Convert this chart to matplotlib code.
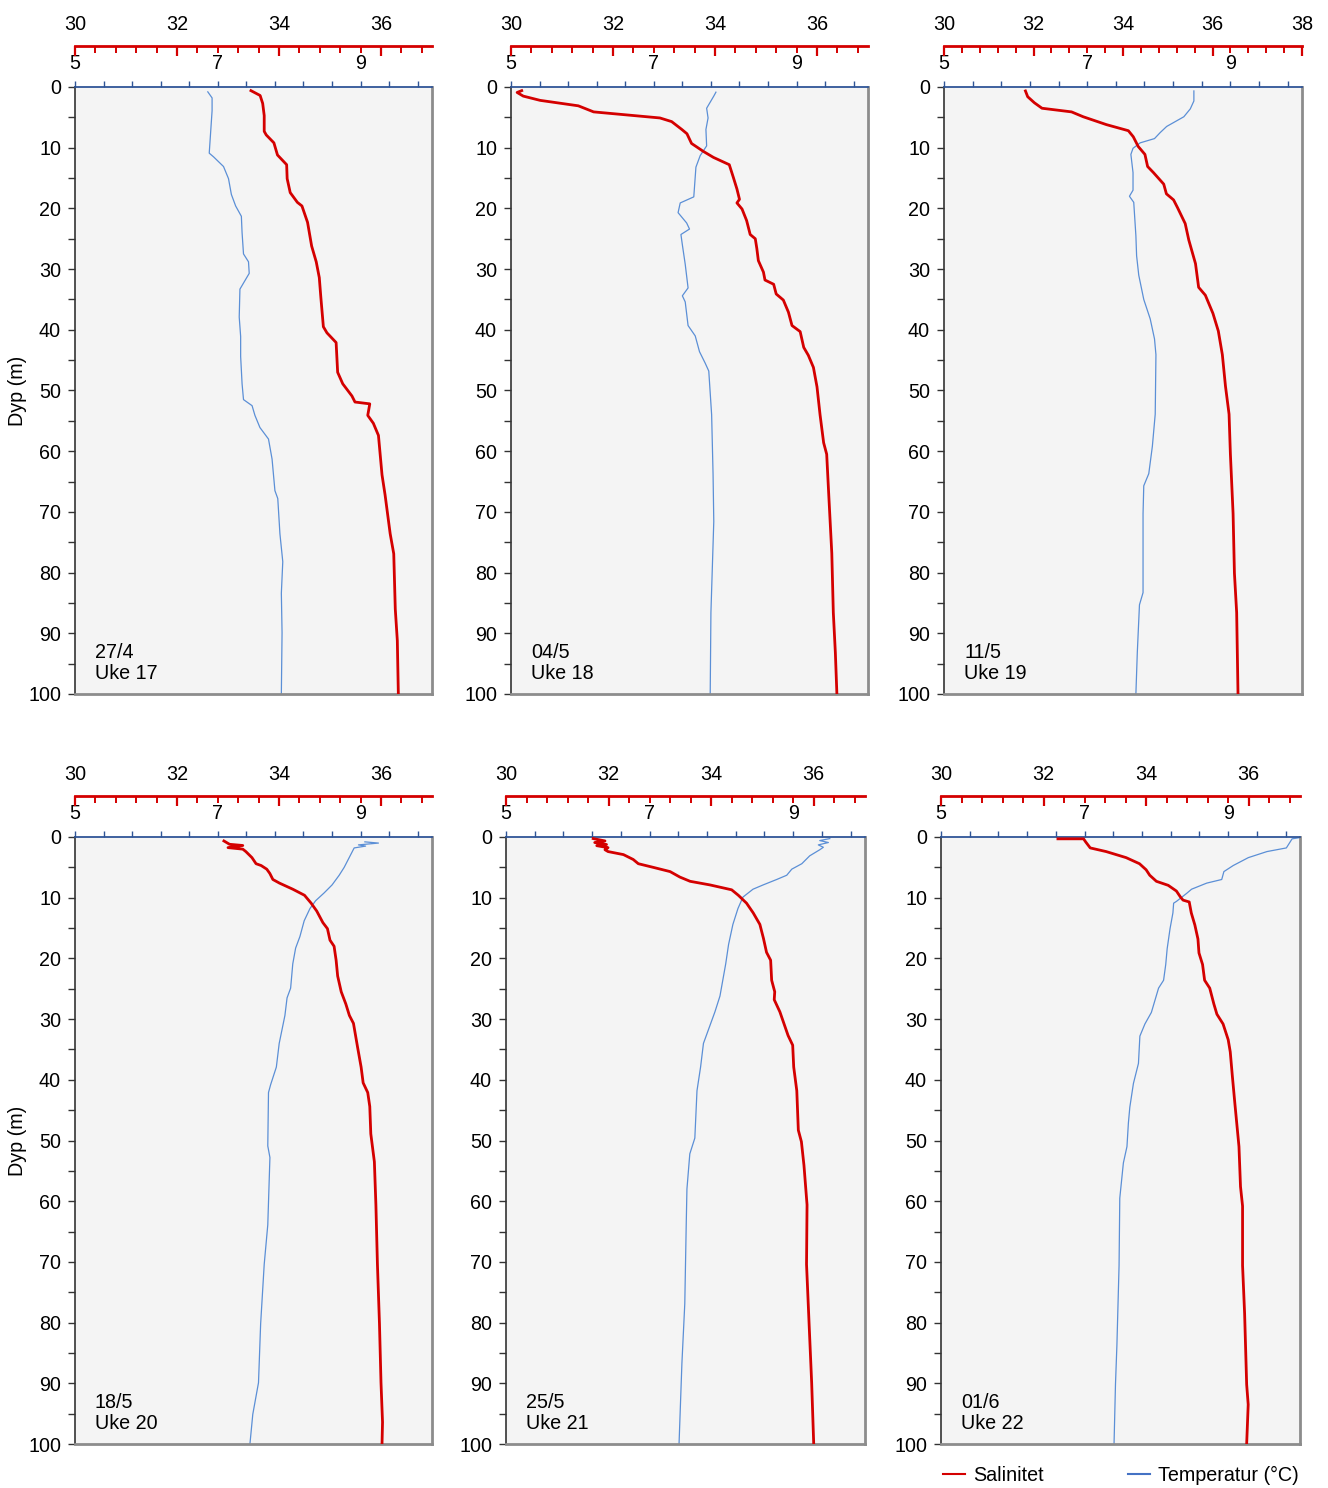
import matplotlib.pyplot as plt
import numpy as np
from matplotlib.lines import Line2D

plt.rcParams['font.family'] = ['Liberation Sans', 'DejaVu Sans']

# ── Profile data (depth in m) ──
dates = ["27/4", "04/5", "11/5", "18/5", "25/5", "01/6"]
weeks = [17, 18, 19, 20, 21, 22]
sal_max = [37, 37, 38, 37, 37, 37]

# 27/4 - Uke 17
sal_d1 = [0.6, 1.4, 2.7, 4.7, 7.3, 7.9, 9.2, 11.2, 12.8, 15.1, 17.4, 19.0, 19.6, 22.3, 26.2, 28.8, 31.4, 34.6,
          39.5, 40.5, 42.1, 47.0, 48.9, 50.9, 51.9, 52.2, 54.1, 55.4, 57.4, 63.9, 67.2, 73.6, 76.9, 86.0, 91.2, 100]
sal_v1 = [33.45, 33.63, 33.68, 33.71, 33.71, 33.75, 33.90, 33.97, 34.15, 34.16, 34.22, 34.36, 34.45, 34.56, 34.64,
          34.73, 34.79, 34.82, 34.87, 34.94, 35.12, 35.15, 35.25, 35.43, 35.49, 35.78, 35.74, 35.85, 35.95, 36.02,
          36.08, 36.18, 36.25, 36.28, 36.32, 36.34]
temp_d1 = [0.8, 1.8, 3.9, 10.9, 11.5, 13.1, 15.1, 17.7, 19.6, 21.3, 24.0, 27.5, 28.8, 30.7, 33.3, 37.9, 41.1, 44.4,
           48.9, 51.5, 52.5, 54.1, 56.1, 58.0, 61.3, 66.5, 67.8, 73.6, 78.2, 83.4, 89.9, 100]
temp_v1 = [6.86, 6.92, 6.92, 6.88, 6.94, 7.08, 7.15, 7.19, 7.25, 7.33, 7.34, 7.36, 7.43, 7.44, 7.31, 7.30, 7.32,
           7.32, 7.34, 7.36, 7.48, 7.52, 7.59, 7.71, 7.76, 7.80, 7.84, 7.87, 7.91, 7.89, 7.90, 7.89]

# 04/5 - Uke 18
sal_d2 = [0.6, 0.9, 1.5, 2.2, 3.1, 4.1, 5.1, 5.7, 7.0, 7.7, 9.3, 10.6, 11.6, 12.8, 14.9, 16.8, 18.5, 19.1, 20.1,
          22.0, 24.3, 25.0, 26.6, 28.6, 30.5, 31.8, 32.5, 34.1, 35.1, 37.1, 39.3, 40.3, 42.9, 44.2, 46.2, 49.4,
          54.0, 58.6, 60.5, 67.1, 76.8, 86.6, 93.2, 100]
sal_v2 = [30.21, 30.12, 30.24, 30.57, 31.32, 31.62, 32.92, 33.15, 33.35, 33.45, 33.54, 33.77, 33.97, 34.28, 34.36,
          34.43, 34.48, 34.43, 34.53, 34.62, 34.69, 34.79, 34.82, 34.85, 34.95, 34.98, 35.15, 35.20, 35.34, 35.44,
          35.51, 35.67, 35.74, 35.83, 35.93, 36.00, 36.06, 36.13, 36.19, 36.23, 36.29, 36.32, 36.36, 36.39]
temp_d2 = [0.85, 1.5, 3.5, 5.1, 7.0, 9.7, 11.3, 13.2, 18.1, 19.1, 20.7, 22.4, 23.4, 24.3, 26.0, 29.2, 33.1, 34.4,
           35.4, 39.3, 41.0, 43.6, 45.5, 46.8, 54.0, 63.8, 71.6, 86.6, 100]
temp_v2 = [7.87, 7.84, 7.74, 7.76, 7.73, 7.74, 7.65, 7.59, 7.56, 7.37, 7.34, 7.46, 7.50, 7.38, 7.40, 7.44, 7.48,
           7.40, 7.44, 7.48, 7.58, 7.64, 7.72, 7.77, 7.81, 7.83, 7.84, 7.80, 7.79]

# 11/5 - Uke 19
sal_d3 = [0.65, 1.6, 2.6, 3.5, 4.1, 4.9, 6.2, 7.2, 8.2, 9.8, 11.1, 13.1, 14.1, 16.0, 17.6, 18.6, 19.9, 22.5, 25.2,
          29.1, 33.0, 34.3, 37.3, 40.2, 44.1, 49.3, 53.9, 60.5, 70.3, 80.1, 86.6, 100]
sal_v3 = [31.82, 31.87, 32.02, 32.19, 32.85, 33.11, 33.63, 34.12, 34.23, 34.34, 34.49, 34.55, 34.68, 34.91, 34.97,
          35.13, 35.22, 35.39, 35.47, 35.62, 35.69, 35.84, 36.01, 36.13, 36.22, 36.29, 36.37, 36.40, 36.46, 36.49,
          36.54, 36.57]
temp_d3 = [0.65, 2.3, 3.6, 4.9, 6.5, 7.5, 8.5, 9.2, 10.1, 11.1, 14.1, 17.0, 18.0, 19.0, 24.5, 27.8, 31.0, 35.0,
           38.2, 41.5, 44.1, 53.9, 59.2, 63.7, 65.7, 70.3, 76.8, 83.3, 85.3, 93.1, 100]
temp_v3 = [8.49, 8.49, 8.44, 8.35, 8.11, 8.02, 7.94, 7.74, 7.64, 7.61, 7.64, 7.64, 7.59, 7.65, 7.68, 7.69, 7.72,
           7.79, 7.88, 7.94, 7.96, 7.95, 7.91, 7.86, 7.79, 7.78, 7.78, 7.78, 7.73, 7.70, 7.68]

# 18/5 - Uke 20
sal_d4 = [0.65, 1.2, 1.4, 1.75, 2.0, 2.4, 3.4, 4.4, 4.7, 5.3, 6.0, 7.0, 7.6, 8.6, 9.6, 10.9, 12.2, 14.1, 15.1,
          17.0, 18.0, 20.3, 22.9, 25.5, 27.5, 29.4, 30.7, 34.6, 37.9, 40.5, 42.1, 44.4, 48.9, 53.5, 60.6, 70.4,
          80.2, 89.9, 96.4, 100]
sal_v4 = [32.92, 33.03, 33.29, 33.00, 33.29, 33.35, 33.47, 33.55, 33.65, 33.76, 33.82, 33.88, 34.01, 34.27, 34.50,
          34.63, 34.74, 34.86, 34.95, 35.00, 35.08, 35.12, 35.15, 35.22, 35.31, 35.38, 35.46, 35.54, 35.61, 35.65,
          35.74, 35.78, 35.80, 35.87, 35.90, 35.93, 35.97, 36.00, 36.03, 36.02]
temp_d4 = [0.8, 1.0, 1.3, 1.5, 1.8, 3.4, 5.0, 6.3, 7.9, 9.2, 10.5, 11.8, 13.8, 16.4, 18.3, 20.9, 24.9, 26.5, 29.4,
           34.0, 37.9, 40.8, 42.1, 50.9, 52.8, 63.9, 70.4, 80.2, 89.9, 95.1, 100]
temp_v4 = [9.06, 9.25, 8.97, 9.07, 8.91, 8.84, 8.77, 8.70, 8.60, 8.49, 8.37, 8.29, 8.21, 8.15, 8.09, 8.05, 8.02,
           7.97, 7.94, 7.86, 7.82, 7.74, 7.71, 7.70, 7.73, 7.70, 7.65, 7.60, 7.57, 7.49, 7.45]

# 25/5 - Uke 21
sal_d5 = [0.26, 0.65, 0.91, 1.24, 1.43, 1.76, 2.1, 2.4, 2.9, 3.7, 4.4, 5.0, 5.7, 6.6, 7.3, 7.9, 8.7, 9.6, 10.9,
          12.5, 14.4, 16.7, 19.0, 20.3, 23.6, 25.5, 26.8, 28.8, 32.7, 34.3, 37.9, 41.8, 48.3, 50.2, 54.1, 60.6,
          70.4, 80.2, 89.9, 100]
sal_v5 = [31.70, 31.93, 31.73, 31.96, 31.77, 31.99, 31.93, 31.99, 32.29, 32.48, 32.58, 32.87, 33.20, 33.39, 33.59,
          33.98, 34.40, 34.53, 34.69, 34.82, 34.95, 35.02, 35.08, 35.16, 35.18, 35.24, 35.23, 35.34, 35.50, 35.59,
          35.61, 35.67, 35.70, 35.76, 35.81, 35.87, 35.86, 35.91, 35.96, 36.00]
temp_d5 = [0.26, 0.59, 0.91, 1.30, 1.69, 2.1, 3.1, 4.4, 5.3, 6.3, 7.0, 7.9, 8.6, 9.9, 11.8, 14.4, 17.7, 20.9,
           26.2, 28.8, 34.0, 37.9, 41.8, 49.6, 52.2, 58.0, 63.9, 76.9, 86.7, 100]
temp_v5 = [9.51, 9.37, 9.49, 9.35, 9.42, 9.37, 9.23, 9.12, 8.98, 8.91, 8.77, 8.58, 8.44, 8.30, 8.23, 8.16, 8.10,
           8.06, 7.98, 7.91, 7.75, 7.71, 7.66, 7.63, 7.56, 7.52, 7.51, 7.49, 7.45, 7.41]

# 01/6 - Uke 22
sal_d6 = [0.3, 0.3, 0.8, 1.8, 2.4, 3.4, 4.4, 5.4, 6.3, 7.3, 7.96, 8.9, 9.9, 10.4, 10.7, 12.5, 14.5, 16.8, 19.1,
          21.0, 23.6, 24.9, 27.5, 29.2, 30.8, 33.4, 35.4, 39.3, 43.9, 51.0, 57.6, 60.8, 70.6, 78.5, 90.2, 93.5, 100]
sal_v6 = [32.28, 32.78, 32.82, 32.91, 33.22, 33.61, 33.87, 34.00, 34.07, 34.20, 34.43, 34.59, 34.67, 34.72, 34.84,
          34.88, 34.95, 35.01, 35.03, 35.10, 35.14, 35.24, 35.32, 35.38, 35.50, 35.60, 35.64, 35.68, 35.73, 35.81,
          35.84, 35.88, 35.88, 35.92, 35.96, 35.99, 35.96]
temp_d6 = [0.1, 0.3, 1.8, 2.4, 3.4, 4.7, 5.7, 7.0, 7.6, 8.6, 9.3, 10.6, 10.9, 12.5, 15.1, 18.4, 21.0, 23.6, 24.9,
           28.9, 30.8, 32.8, 37.3, 40.6, 44.5, 47.1, 51.0, 53.7, 59.5, 70.6, 83.7, 90.2, 100]
temp_v6 = [10.0, 9.89, 9.81, 9.54, 9.28, 9.07, 8.94, 8.91, 8.70, 8.49, 8.42, 8.28, 8.24, 8.23, 8.19, 8.15, 8.13,
           8.10, 8.03, 7.93, 7.84, 7.77, 7.75, 7.68, 7.63, 7.61, 7.59, 7.54, 7.49, 7.48, 7.45, 7.43, 7.41]

sal_depths = [sal_d1, sal_d2, sal_d3, sal_d4, sal_d5, sal_d6]
sal_vals = [sal_v1, sal_v2, sal_v3, sal_v4, sal_v5, sal_v6]
temp_depths = [temp_d1, temp_d2, temp_d3, temp_d4, temp_d5, temp_d6]
temp_vals = [temp_v1, temp_v2, temp_v3, temp_v4, temp_v5, temp_v6]

RED = "#D40000"
BLUE_LINE = "#5B8FD6"
BLUE_AXIS = "#2F5597"
FS = 14.2

# ── Layout (pixels of the 1328x1488 figure) ──
W, H = 1328, 1488
lefts = [75, 511, 944, 75, 506, 941]
rights = [432, 868, 1302, 432, 865, 1300]
tops = [87, 87, 87, 837, 837, 837]
box_h = 607

fig = plt.figure(figsize=(W / 100, H / 100), dpi=100)

for i in range(6):
    l, r, t = lefts[i], rights[i], tops[i]
    ax = fig.add_axes([l / W, 1 - (t + box_h) / H, (r - l) / W, box_h / H])
    ax2 = ax.twiny()

    # temperature on the main axes
    ax.plot(temp_vals[i], temp_depths[i], color=BLUE_LINE, lw=0.9)
    ax.set_facecolor("#F4F4F4")
    ax.set_xlim(5, 10)
    ax.set_ylim(100, 0)
    ax.xaxis.tick_top()
    ax.set_xticks([5, 7, 9])
    ax.set_xticks(np.arange(5, 9.99, 0.4), minor=True)
    ax.tick_params(axis="x", which="both", direction="out", length=4, width=1,
                   color=BLUE_AXIS, labelsize=FS, pad=6)
    ax.set_yticks(np.arange(0, 101, 10))
    ax.set_yticks(np.arange(5, 100, 5), minor=True)
    ax.tick_params(axis="y", which="both", direction="out", length=5, width=1,
                   color="#333333", labelsize=FS, pad=5)
    ax.spines["top"].set_color(BLUE_AXIS)
    ax.spines["top"].set_linewidth(1.3)
    ax.spines["left"].set_color("#333333")
    ax.spines["left"].set_linewidth(1.2)
    for s in ["right", "bottom"]:
        ax.spines[s].set_color("#8C8C8C")
        ax.spines[s].set_linewidth(2)

    # salinity on the twin axes
    ax2.plot(sal_vals[i], sal_depths[i], color=RED, lw=2)
    ax2.set_xlim(30, sal_max[i])
    ax2.set_xticks(np.arange(30, sal_max[i] + 0.01, 2))
    ax2.set_xticks(np.arange(30, sal_max[i] + 0.01, 0.4), minor=True)
    ax2.spines["top"].set_position(("outward", 29.5))
    ax2.spines["top"].set_color(RED)
    ax2.spines["top"].set_linewidth(2)
    for s in ["bottom", "left", "right"]:
        ax2.spines[s].set_visible(False)
    ax2.tick_params(axis="x", which="major", direction="in", length=7, width=1.6,
                    color=RED, labelsize=FS, pad=9)
    ax2.tick_params(axis="x", which="minor", direction="in", length=5, width=1.4, color=RED)

    ax2.text(0.056, 0.018, f"{dates[i]}\nUke {weeks[i]}", transform=ax.transAxes,
             fontsize=FS, ha="left", va="bottom", linespacing=1.15)

    if i % 3 == 0:
        ax.set_ylabel("Dyp (m)", fontsize=FS, labelpad=1)

handles = [Line2D([], [], color=RED, lw=1.5), Line2D([], [], color="#4472C4", lw=1.5)]
fig.legend(handles, ["Salinitet", "Temperatur (°C)"], loc="center",
           bbox_to_anchor=(1121 / W, 1 - 1475 / H), ncol=2, frameon=False, fontsize=FS,
           handlelength=1.1, handletextpad=0.4, columnspacing=4.3)

plt.savefig("out.png", dpi=100)
